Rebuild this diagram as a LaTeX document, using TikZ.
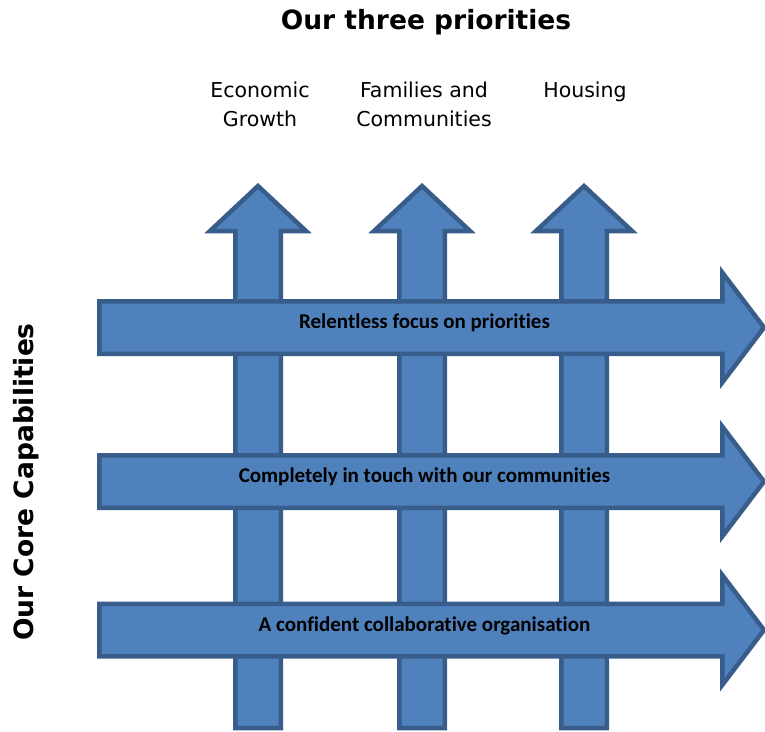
\documentclass[tikz,border=0pt]{standalone}
\usepackage{fontspec}
\setmainfont{DejaVu Sans}
\newfontfamily\labelfont[Ligatures=NoCommon]{Carlito}

\definecolor{arrowfill}{HTML}{4F81BD}
\definecolor{arrowline}{HTML}{385D8A}

\begin{document}
\begin{tikzpicture}[x=1pt, y=-1pt,
  bigarrow/.style={line width=4.5pt, draw=arrowline, fill=arrowfill},
  capability/.style={font=\labelfont\bfseries\fontsize{21}{25}\selectfont, inner sep=0pt, anchor=base},
  priority/.style={font=\fontsize{20.5}{29}\selectfont, align=center, inner sep=0pt}]

\useasboundingbox (0,0) rectangle (765,731);

% Title on top
\node[font=\bfseries\fontsize{26.5}{30}\selectfont, inner sep=0pt] (title) at (426, 22) {Our three priorities};

% Title on the left side
\node[font=\bfseries\fontsize{26.5}{30}\selectfont, inner sep=0pt, rotate=90] (side) at (26, 482) {Our Core Capabilities};

% The three priorities
\node[priority] (growth) at (260, 104) {Economic\\Growth};
\node[priority] (families) at (424, 104) {Families and\\Communities};
\node[priority] (housing) at (585, 92) {Housing};

% Vertical arrow for Economic Growth
\draw[bigarrow] (235.25, 728) -- (235.25, 231) -- (210, 231) -- (258, 186)
  -- (306, 231) -- (280.75, 231) -- (280.75, 728) -- cycle;

% Vertical arrow for Families and Communities
\draw[bigarrow] (399.25, 728) -- (399.25, 231) -- (374, 231) -- (422, 186)
  -- (470, 231) -- (444.75, 231) -- (444.75, 728) -- cycle;

% Vertical arrow for Housing
\draw[bigarrow] (561.25, 728) -- (561.25, 231) -- (536, 231) -- (584, 186)
  -- (632, 231) -- (606.75, 231) -- (606.75, 728) -- cycle;

% Horizontal arrow: Relentless focus on priorities
\draw[bigarrow] (99.25, 301.25) -- (722.25, 301.25) -- (722.25, 272.5) -- (764, 327.5)
  -- (722.25, 382.5) -- (722.25, 353.75) -- (99.25, 353.75) -- cycle;
\node[capability] (focus) at (424.5, 328.5) {Relentless focus on priorities};

% Horizontal arrow: Completely in touch with our communities
\draw[bigarrow] (99.25, 455.25) -- (722.25, 455.25) -- (722.25, 426.5) -- (764, 481.5)
  -- (722.25, 536.5) -- (722.25, 507.75) -- (99.25, 507.75) -- cycle;
\node[capability] (touch) at (424.5, 482.5) {Completely in touch with our communities};

% Horizontal arrow: A confident collaborative organisation
\draw[bigarrow] (99.25, 603.75) -- (722.25, 603.75) -- (722.25, 575) -- (764, 630)
  -- (722.25, 685) -- (722.25, 656.25) -- (99.25, 656.25) -- cycle;
\node[capability] (confident) at (424.5, 631) {A confident collaborative organisation};

\end{tikzpicture}
\end{document}
